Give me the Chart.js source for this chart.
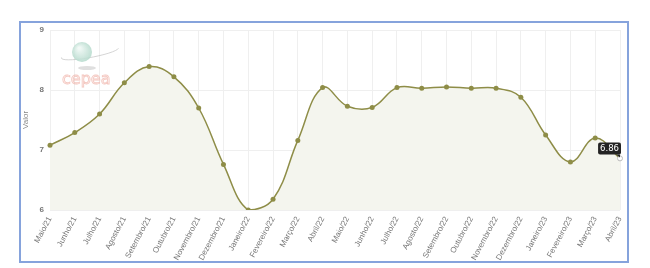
<!DOCTYPE html>
<html>
<head>
<meta charset="utf-8">
<script src="https://cdn.jsdelivr.net/npm/chart.js@4/dist/chart.umd.min.js"></script>
<style>
  html, body { margin: 0; padding: 0; background: #fff; }
  #wrap { position: relative; width: 650px; height: 268px; }
  #frame { position: absolute; left: 19px; top: 21px; width: 606px; height: 238px; border: 2px solid #86a3dc; pointer-events: none; }
</style>
</head>
<body>
<div id="wrap">
  <canvas id="chart" width="650" height="268"></canvas>
  <div id="frame"></div>
</div>
<script>
var meses = ['Maio/21', 'Junho/21', 'Julho/21', 'Agosto/21', 'Setembro/21', 'Outubro/21',
  'Novembro/21', 'Dezembro/21', 'Janeiro/22', 'Fevereiro/22', 'Março/22', 'Abril/22',
  'Maio/22', 'Junho/22', 'Julho/22', 'Agosto/22', 'Setembro/22', 'Outubro/22',
  'Novembro/22', 'Dezembro/22', 'Janeiro/23', 'Fevereiro/23', 'Março/23', 'Abril/23'];
var valores = [7.08, 7.29, 7.60, 8.12, 8.39, 8.22, 7.70, 6.76, 6.00, 6.18, 7.16, 8.04,
  7.73, 7.71, 8.04, 8.03, 8.05, 8.03, 8.03, 7.88, 7.25, 6.80, 7.20, 6.86];
var yTicks = [6, 7, 8, 9];

var olive = '#8e8d47';

// logo cepea no canto
var logoPlugin = {
  id: 'logo',
  beforeDatasetsDraw: function(chart){
    var c = chart.ctx;
    c.save();
    // sombra
    c.fillStyle = 'rgba(175,175,175,0.4)';
    c.beginPath();
    c.ellipse(87, 68, 9, 2, 0, 0, Math.PI*2);
    c.fill();
    // orbita
    c.strokeStyle = 'rgba(185,185,185,0.6)';
    c.lineWidth = 1;
    c.beginPath();
    c.ellipse(90, 53, 29, 4.5, -0.18, 0.1, Math.PI*1.05);
    c.stroke();
    // globo
    var g = c.createRadialGradient(79, 48, 1, 82, 52, 11);
    g.addColorStop(0, 'rgba(240,248,245,0.9)');
    g.addColorStop(1, 'rgba(175,215,200,0.85)');
    c.fillStyle = g;
    c.beginPath();
    c.arc(82, 52, 10, 0, Math.PI*2);
    c.fill();
    // texto
    c.font = '16px "DejaVu Sans"';
    c.strokeStyle = 'rgba(238,170,160,0.65)';
    c.lineWidth = 0.9;
    c.textBaseline = 'alphabetic';
    c.strokeText('cepea', 62, 84);
    c.restore();
  }
};

// caixa do valor no ultimo ponto
var tipPlugin = {
  id: 'tip',
  afterDatasetsDraw: function(chart){
    var c = chart.ctx;
    var i = valores.length - 1;
    var x = chart.scales.x.getPixelForValue(i);
    var y = chart.scales.y.getPixelForValue(valores[i]);
    c.save();
    c.fillStyle = '#fff';
    c.strokeStyle = '#bbb';
    c.beginPath();
    c.arc(x, y, 2.5, 0, Math.PI*2);
    c.fill();
    c.stroke();
    var txt = valores[i].toFixed(2);
    c.font = '8.5px "DejaVu Sans"';
    var w = c.measureText(txt).width + 4;
    var h = 12;
    var bx = x - w + 1, by = y - 16;
    c.fillStyle = '#232323';
    c.beginPath();
    c.roundRect(bx, by, w, h, 2);
    c.fill();
    c.beginPath();
    c.moveTo(x - 4, by + h);
    c.lineTo(x, by + h + 3);
    c.lineTo(x, by + h);
    c.fill();
    c.fillStyle = '#fff';
    c.textAlign = 'center';
    c.textBaseline = 'middle';
    c.fillText(txt, bx + w/2, by + h/2 + 0.5);
    c.restore();
  }
};

var ctx = document.getElementById('chart');
var pts = valores.map(function(v, k){ return k === valores.length - 1 ? 0 : 2.5; });

new Chart(ctx, {
  type: 'line',
  data: {
    labels: meses,
    datasets: [{
      label: 'Valor',
      data: valores,
      borderColor: olive,
      borderWidth: 1.5,
      backgroundColor: '#f4f5ee',
      fill: 'start',
      tension: 0.4,
      pointRadius: pts,
      pointBackgroundColor: olive,
      pointBorderColor: olive,
      pointBorderWidth: 0
    }]
  },
  options: {
    responsive: false,
    animation: false,
    events: [],
    layout: { padding: { left: 21, right: 30, top: 30, bottom: 7 } },
    plugins: { legend: { display: false }, tooltip: { enabled: false } },
    scales: {
      x: {
        grid: { color: '#efefef', drawTicks: false },
        border: { display: false },
        ticks: {
          color: '#777',
          font: { family: 'Liberation Sans', size: 8 },
          minRotation: 62,
          maxRotation: 62,
          autoSkip: false,
          padding: 5
        },
        afterFit: function(s){ s.height = 51; }
      },
      y: {
        min: 6,
        max: 9,
        afterBuildTicks: function(s){ s.ticks = yTicks.map(function(v){ return { value: v }; }); },
        grid: { color: '#efefef', drawTicks: false },
        border: { display: false },
        ticks: {
          color: '#777',
          font: { family: 'Liberation Sans', size: 8, weight: 'bold' },
          padding: 6
        },
        title: {
          display: true,
          text: 'Valor',
          color: '#888',
          font: { family: 'Liberation Sans', size: 8 },
          padding: 0
        },
        afterFit: function(s){ s.width = 29; }
      }
    }
  },
  plugins: [logoPlugin, tipPlugin]
});
</script>
</body>
</html>
